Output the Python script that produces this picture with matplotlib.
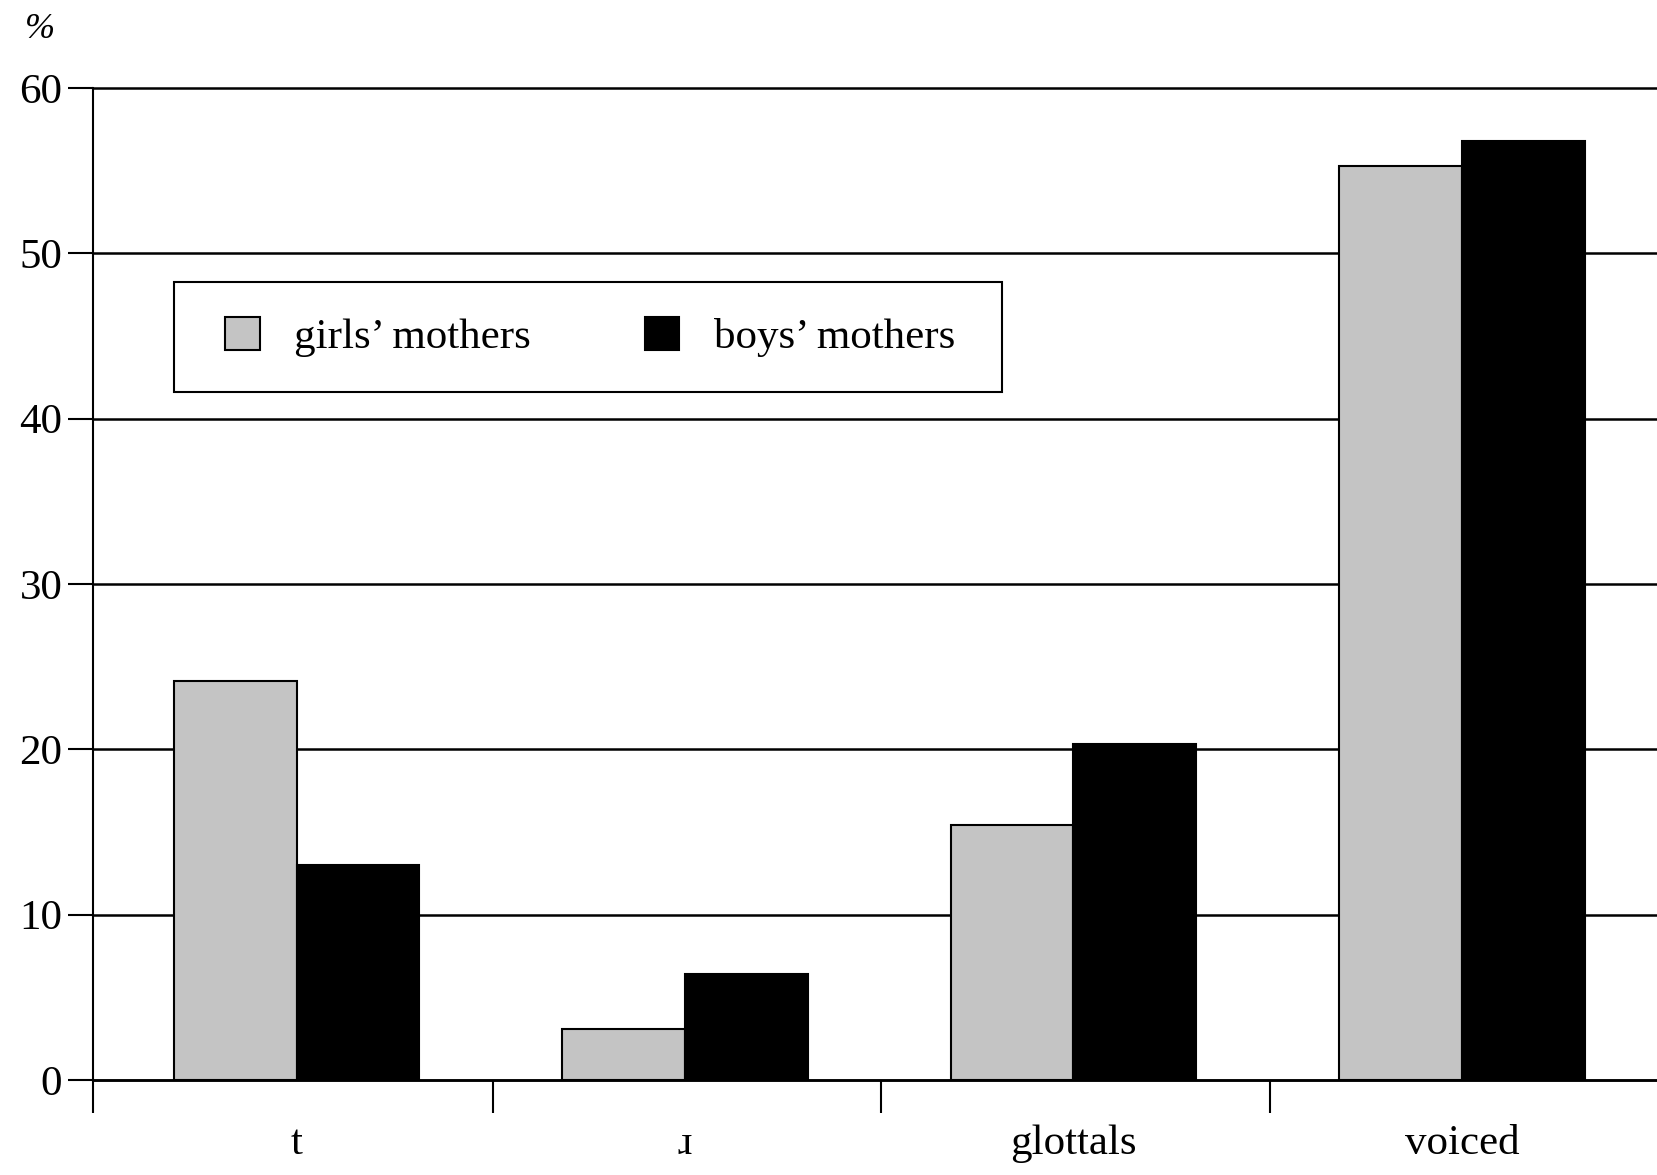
import matplotlib
matplotlib.use("Agg")
import matplotlib.pyplot as plt
from matplotlib.patches import Rectangle
import numpy as np

plt.rcParams['font.family'] = ['Liberation Serif', 'DejaVu Serif']

# data
categories = ['t', 'ɹ', 'glottals', 'voiced']
girls_mothers = [24.1, 3.1, 15.4, 55.3]
boys_mothers = [13.0, 6.4, 20.3, 56.8]
series_names = ['girls’ mothers', 'boys’ mothers']
yticks = [0, 10, 20, 30, 40, 50, 60]

fig = plt.figure(figsize=(16.58, 11.75), dpi=100)
ax = fig.add_axes([0.056, 0.081, 0.944, 0.844])

x = np.arange(len(categories)) + 0.025
w = 0.316
ax.bar(x - w / 2, girls_mothers, w, color='#c4c4c4', edgecolor='black',
       linewidth=1.5, label=series_names[0], zorder=3)
ax.bar(x + w / 2, boys_mothers, w, color='black', edgecolor='black',
       linewidth=1.5, label=series_names[1], zorder=3)

ax.set_xlim(-0.5, 3.53)
ax.set_ylim(0, 60)
ax.set_yticks(yticks)
ax.set_yticklabels([str(v) for v in yticks], fontsize=31)
ax.tick_params(axis='y', direction='out', length=18, width=1.5, pad=4)
for v in yticks:
    ax.axhline(v, color='black', linewidth=1.8, zorder=1, clip_on=False)

# category separators as major ticks, labels as minor ticks
ax.set_xticks([-0.5, 0.53, 1.53, 2.53])
ax.set_xticklabels([])
ax.tick_params(axis='x', which='major', direction='out', length=24, width=1.5)
ax.set_xticks(x, minor=True)
ax.set_xticklabels(categories, minor=True, fontsize=31)
ax.tick_params(axis='x', which='minor', length=0, pad=32)

for s in ['top', 'right']:
    ax.spines[s].set_visible(False)
ax.spines['left'].set_linewidth(1.5)
ax.spines['bottom'].set_linewidth(1.8)

# legend box drawn separately so the padding can differ per side
ax.add_patch(Rectangle((0.052, 0.694), 0.529, 0.11, transform=ax.transAxes,
                       facecolor='white', edgecolor='black', linewidth=1.5, zorder=4))
leg = ax.legend(loc='center left', bbox_to_anchor=(0.0845, 0.749),
                ncol=2, fontsize=31, frameon=False,
                handlelength=0.8, handleheight=0.8, handletextpad=0.8,
                columnspacing=2.65, borderpad=0, borderaxespad=0)
leg.set_zorder(5)

fig.text(0.024, 0.975, '%', fontsize=26, style='italic', ha='center', va='center')

fig.savefig('out.png', dpi=100)
